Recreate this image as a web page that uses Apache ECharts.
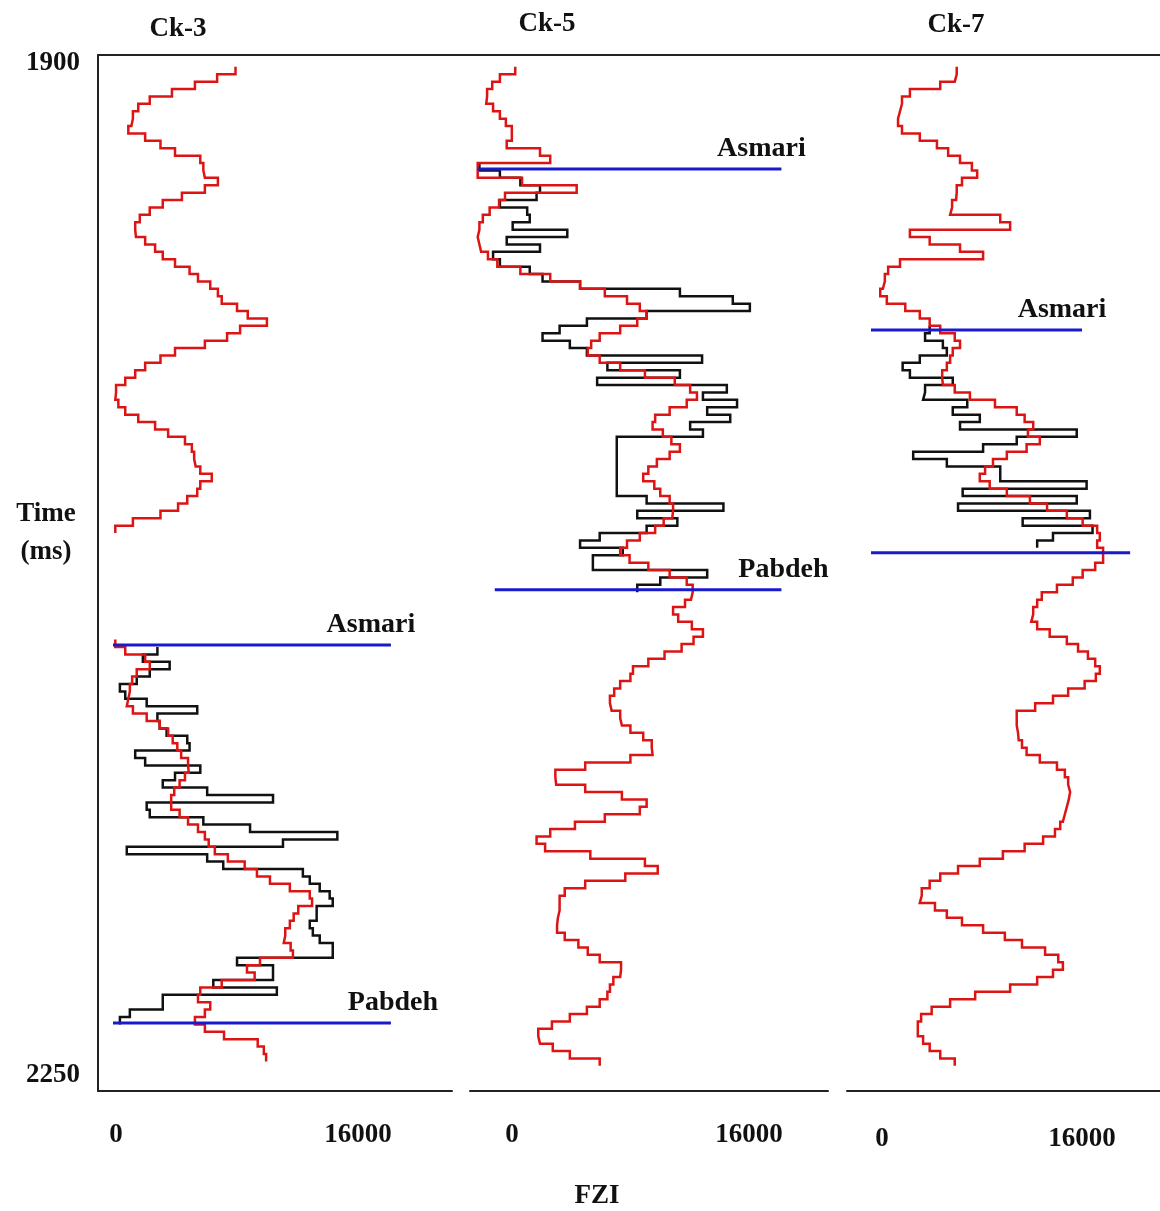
<!DOCTYPE html>
<html>
<head>
<meta charset="utf-8">
<script src="https://cdn.jsdelivr.net/npm/echarts@6/dist/echarts.min.js"></script>
<style>
  html, body { margin: 0; padding: 0; background: #ffffff; }
  #chart { width: 1160px; height: 1211px; }
</style>
</head>
<body>
<div id="chart"></div>
<script>
// ---- Data -----------------------------------------------------------------
// Logs are sampled every STEP_MS milliseconds (two-way time); each array holds
// one value per sample, starting at the time given in the matching *Start.
const STEP_MS = 2.5;
const TIME_TICKS = [1900, 2250];
const FZI_TICKS = [0, 16000];
const WELLS = ['Ck-3', 'Ck-5', 'Ck-7'];

// Ck-3 (red log, shown in two pieces, and FZI in black)
const ck3RedUpperStart = 1904;
const ck3RedUpper = [8000, 6800, 5350, 3850, 2400, 1650, 1300, 1200, 1000, 2100,
  3100, 4050, 5700, 5900, 6000, 6850, 6000, 4500, 3250, 2400,
  1750, 1450, 1500, 2100, 2750, 3250, 4050, 5000, 5550, 6350,
  6850, 7100, 8100, 8800, 10050, 8300, 7450, 6000, 4050, 3100,
  2100, 1450, 800, 200, 150, 350, 800, 1650, 2750, 3600,
  4700, 5150, 5300, 5400, 5700, 6450, 5700, 5500, 4850, 4250,
  3100, 1300, 150];
const ck3RedLowerStart = 2097.5;
const ck3RedLower = [150, 800, 2100, 2400, 1550, 1250, 1100, 1000, 900, 1300,
  2200, 3050, 3600, 3900, 4200, 4450, 4900, 4950, 4700, 4350,
  4000, 3800, 3800, 4350, 4900, 5550, 6000, 6250, 6650, 7500,
  8600, 9400, 10250, 11550, 12850, 13000, 12100, 11800, 11550, 11250,
  11150, 11600, 11750, 9600, 8750, 9250, 7100, 5700, 5550, 6350,
  6000, 5350, 6000, 7250, 9450, 9850, 10000];
const ck3FziStart = 2100;
const ck3Fzi = [2900, 1950, 3700, 2400, 1550, 450, 800, 2200, 5500, 2900,
  3050, 3500, 4850, 5000, 1450, 2100, 5700, 4050, 3250, 6150,
  10450, 2200, 2400, 5900, 8950, 14650, 11100, 900, 6150, 7200,
  12400, 12850, 13500, 14150, 14350, 13300, 13300, 12850, 13050, 13500,
  14350, 14350, 8100, 10450, 10450, 6550, 10700, 3250, 3250, 1100,
  450];

// Ck-5
const ck5RedStart = 1904;
const ck5Red = [2300, 1400, 950, 650, 600, 1000, 1400, 1750, 2100, 2100,
  1800, 3750, 4350, 100, 100, 2700, 5900, 1700, 1350, 800,
  400, 200, 100, 200, 300, 700, 1250, 2600, 4350, 6100,
  7550, 8850, 9600, 10000, 9450, 8450, 7250, 6750, 6550, 7250,
  8450, 9900, 11650, 12550, 12950, 12350, 11350, 10500, 10350, 10950,
  11450, 11950, 11350, 10600, 10100, 9800, 10450, 10800, 11350, 11550,
  11500, 11000, 10500, 9600, 8850, 8450, 9000, 10100, 11350, 12350,
  12700, 12600, 12250, 11550, 11850, 12650, 13300, 12750, 12050, 11050,
  10100, 9200, 9050, 8450, 8100, 7850, 7950, 8450, 8550, 9050,
  9800, 10300, 10350, 9050, 6400, 4650, 4700, 6400, 8550, 10000,
  9600, 7550, 5800, 4350, 3550, 4050, 6700, 9900, 10650, 8750,
  6400, 5200, 4900, 4900, 4800, 4750, 4750, 5200, 6000, 6550,
  7250, 8500, 8450, 8050, 7850, 7700, 7250, 6500, 5500, 4450,
  3650, 3750, 4500, 5500, 7250];
const ck5FziStart = 1936.5;
const ck5Fzi = [200, 1400, 2600, 3750, 3550, 1400, 3000, 3150, 2150, 5350,
  1800, 3750, 1000, 1400, 3150, 3900, 6100, 11950, 15050, 16050,
  10000, 6500, 4900, 3900, 5500, 6500, 13250, 7700, 11950, 7100,
  14700, 13300, 15300, 13550, 14900, 12550, 13300, 8250, 8250, 8250,
  8250, 8250, 8250, 8250, 8250, 10000, 14500, 9450, 11800, 10000,
  7250, 6100, 8600, 6850, 6850, 13550, 10800, 9450];

// Ck-7
const ck7RedStart = 1904;
const ck7Red = [6500, 6350, 5250, 2950, 2350, 2200, 2050, 2050, 2350, 3700,
  5000, 5850, 6750, 7650, 8050, 6900, 6500, 6450, 6150, 6000,
  9800, 10550, 2950, 4450, 6750, 8500, 2200, 1300, 1050, 900,
  700, 1200, 2600, 3700, 4450, 5250, 6350, 6750, 6200, 6000,
  5750, 5400, 5450, 6350, 7500, 9400, 11050, 11650, 12300, 11900,
  12800, 11800, 10300, 9250, 8650, 8250, 9000, 10300, 12050, 13350,
  14850, 16050, 17150, 17350, 17150, 17600, 17600, 17000, 16050, 15300,
  14100, 12950, 12600, 12300, 12150, 12600, 13550, 14850, 15700, 16450,
  17000, 17350, 17050, 16200, 14950, 13800, 12450, 11050, 11050, 11150,
  11200, 11450, 11800, 12800, 14100, 14700, 14950, 15100, 15000, 14850,
  14700, 14550, 14350, 13950, 13050, 11650, 10000, 8250, 6600, 5250,
  4450, 3850, 3700, 4850, 5750, 6900, 8500, 10150, 11450, 13200,
  14200, 14550, 13800, 12600, 10550, 7900, 6000, 4600, 3800, 3550,
  3550, 3950, 4450, 5250, 6350];
const ck7FziStart = 1991.5;
const ck7Fzi = [4450, 4100, 5450, 5750, 3700, 2400, 2950, 6200, 4100, 3950,
  7300, 6200, 8250, 6750, 15600, 11050, 8500, 3200, 5750, 9800,
  9800, 16350, 6950, 15600, 6600, 16600, 11500, 16800, 13800, 12600];

// Formation tops: well index, name, time (ms), FZI extent of the marker line
const topWell = [0, 0, 1, 1, 2, 2];
const topName = ['Asmari', 'Pabdeh', 'Asmari', 'Pabdeh', 'Asmari', ''];
const topTime = [2099.3, 2227.0, 1938.5, 2080.7, 1992.9, 2068.2];
const topFrom = [0, 0, 100, 1100, 0, 0];
const topTo = [18150, 18150, 17900, 17900, 16000, 19650];

// ---- Layout & styles --------------------------------------------------------
const PLOT_TOP = 55, PLOT_BOTTOM = 1091;
// pixel extent of each track and where FZI 0 / 16000 fall
const PANELS = [
  { left: 98, right: 452, zero: 113, full: 358, zeroShift: 3, labelGap: 31 },
  { left: 470, right: 828, zero: 476, full: 749, zeroShift: 36, labelGap: 31 },
  { left: 847, right: 1160, zero: 871, full: 1082, zeroShift: 11, labelGap: 35 }
];
const SERIF = '"Liberation Serif", "Times New Roman", serif';
const INK = '#111111';
const RED = '#dc1414';
const BLUE = '#1a1acc';
const LABEL_OFFSET = { Asmari: [-20, 0], Pabdeh: [2, 0] };

function stepPoints(start, values) {
  const pts = [];
  values.forEach((v, i) => {
    pts.push([v, start + i * STEP_MS]);
    pts.push([v, start + (i + 1) * STEP_MS]);
  });
  return pts;
}

const grids = [], xAxes = [], yAxes = [], series = [];

PANELS.forEach((p, i) => {
  const perPx = FZI_TICKS[1] / (p.full - p.zero);
  grids.push({ left: p.left, top: PLOT_TOP, width: p.right - p.left, height: PLOT_BOTTOM - PLOT_TOP });
  xAxes.push({
    gridIndex: i, type: 'value', position: 'bottom',
    min: (p.left - p.zero) * perPx, max: (p.right - p.zero) * perPx,
    axisLine: { show: true, onZero: false, lineStyle: { color: '#222', width: 2 } },
    axisTick: { show: false }, splitLine: { show: false },
    axisLabel: {
      customValues: FZI_TICKS, margin: p.labelGap, color: INK,
      fontFamily: SERIF, fontSize: 27, fontWeight: 'bold',
      formatter: v => (v === 0 ? '{z|0}' : '{n|' + v + '}'),
      rich: {
        z: { fontFamily: SERIF, fontSize: 27, fontWeight: 'bold', color: INK, padding: [0, 0, 0, 2 * p.zeroShift] },
        n: { fontFamily: SERIF, fontSize: 27, fontWeight: 'bold', color: INK }
      }
    }
  });
  yAxes.push({
    gridIndex: i, type: 'value', inverse: true, position: 'left',
    min: TIME_TICKS[0], max: TIME_TICKS[1],
    show: i === 0,
    axisLine: { show: true, onZero: false, lineStyle: { color: '#222', width: 2 } },
    axisTick: { show: false }, splitLine: { show: false },
    axisLabel: {
      customValues: TIME_TICKS, margin: 18, color: INK,
      fontFamily: SERIF, fontSize: 27, fontWeight: 'bold',
      formatter: v => (v === TIME_TICKS[0] ? '{lo|' + v + '}' : '{hi|' + v + '}'),
      rich: {
        lo: { fontFamily: SERIF, fontSize: 27, fontWeight: 'bold', color: INK, padding: [16, 0, 0, 0] },
        hi: { fontFamily: SERIF, fontSize: 27, fontWeight: 'bold', color: INK, padding: [0, 0, 32, 0] }
      }
    }
  });
});

// continuous frame line along the top of all three tracks
grids.push({ left: PANELS[0].left, top: PLOT_TOP, width: PANELS[2].right - PANELS[0].left, height: PLOT_BOTTOM - PLOT_TOP });
xAxes.push({
  gridIndex: 3, type: 'value', position: 'top', min: 0, max: 1,
  axisLine: { show: true, onZero: false, lineStyle: { color: '#222', width: 2 } },
  axisTick: { show: false }, axisLabel: { show: false }, splitLine: { show: false }
});
yAxes.push({ gridIndex: 3, type: 'value', min: 0, max: 1, show: false });

const lineBase = { type: 'line', symbol: 'none', silent: true, animation: false };
function logSeries(panel, pts, color, z) {
  series.push(Object.assign({}, lineBase, {
    xAxisIndex: panel, yAxisIndex: panel, data: pts, z: z,
    lineStyle: { color: color, width: 2.5, join: 'miter' }
  }));
}

logSeries(0, stepPoints(ck3FziStart, ck3Fzi), INK, 2);
logSeries(0, stepPoints(ck3RedUpperStart, ck3RedUpper), RED, 3);
logSeries(0, stepPoints(ck3RedLowerStart, ck3RedLower), RED, 3);
logSeries(1, stepPoints(ck5FziStart, ck5Fzi), INK, 2);
logSeries(1, stepPoints(ck5RedStart, ck5Red), RED, 3);
logSeries(2, stepPoints(ck7FziStart, ck7Fzi), INK, 2);
logSeries(2, stepPoints(ck7RedStart, ck7Red), RED, 3);

topWell.forEach((w, k) => {
  const name = topName[k];
  series.push({
    type: 'line', silent: true, animation: false, z: 4,
    xAxisIndex: w, yAxisIndex: w,
    symbol: 'circle', symbolSize: 0, showSymbol: true,
    lineStyle: { color: BLUE, width: 3 },
    data: [
      [topFrom[k], topTime[k]],
      {
        value: [topTo[k], topTime[k]],
        label: {
          show: name !== '', formatter: name, position: 'top', distance: 6,
          offset: LABEL_OFFSET[name] || [0, 0],
          fontFamily: SERIF, fontSize: 28, fontWeight: 'bold', color: INK
        }
      }
    ]
  });
});

function text(x, y, str, size, weight) {
  return {
    type: 'text', x: x, y: y, silent: true,
    style: {
      text: str, fill: INK, font: (weight || 'bold') + ' ' + size + 'px ' + SERIF,
      align: 'center', verticalAlign: 'middle', textAlign: 'center', textVerticalAlign: 'middle'
    }
  };
}

const chart = echarts.init(document.getElementById('chart'), null, { renderer: 'canvas' });
chart.setOption({
  backgroundColor: '#ffffff',
  animation: false,
  grid: grids,
  xAxis: xAxes,
  yAxis: yAxes,
  series: series,
  graphic: [
    text(178, 29, WELLS[0], 27),
    text(547, 24, WELLS[1], 27),
    text(956, 25, WELLS[2], 27),
    text(46, 514, 'Time', 27),
    text(46, 552, '(ms)', 27),
    text(597, 1196, 'FZI', 27)
  ]
});
</script>
</body>
</html>
